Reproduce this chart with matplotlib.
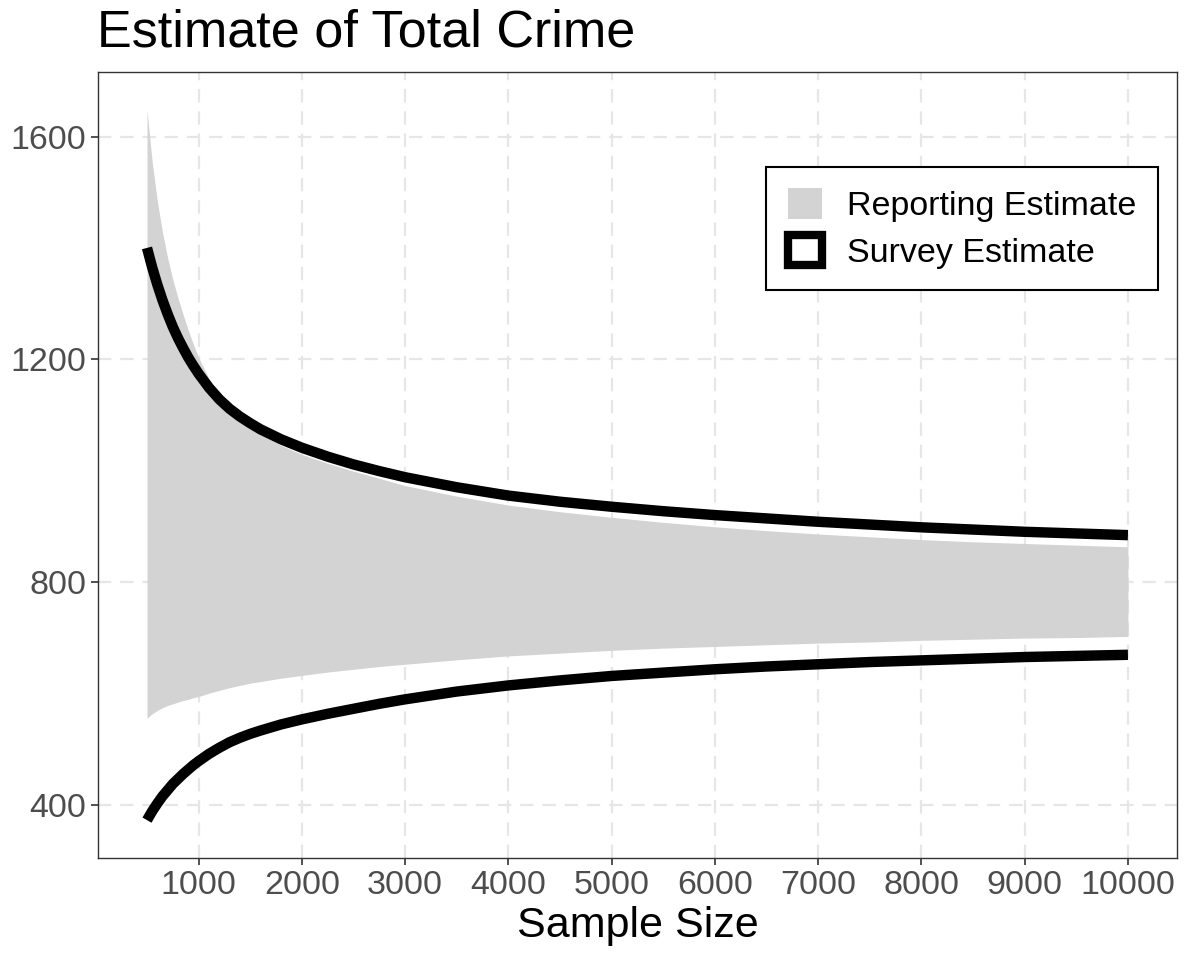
import matplotlib
matplotlib.use("Agg")
import matplotlib.pyplot as plt
from matplotlib.patches import Patch

plt.rcParams['font.family'] = ['Liberation Sans', 'DejaVu Sans']

# sample sizes
sample_size = [500, 550, 600, 650, 700, 750, 800, 850, 900, 950, 1000,
               1100, 1200, 1300, 1400, 1500, 1600, 1800, 2000, 2250, 2500, 2750,
               3000, 3500, 4000, 4500, 5000, 5500, 6000, 6500, 7000, 7500,
               8000, 8500, 9000, 9500, 10000]

# reporting estimate band (grey ribbon)
report_hi = [1648, 1555, 1484, 1428, 1382, 1343, 1310, 1280, 1252, 1226, 1203,
             1165, 1135, 1111, 1093, 1078, 1065, 1045, 1029, 1013, 999, 986,
             973, 954, 938, 926, 916, 907, 899, 892, 886, 881,
             876, 872, 869, 866, 863]
report_lo = [555, 563, 569, 574, 578, 581, 584, 587, 589, 592, 594,
             600, 605, 610, 614, 618, 621, 627, 632, 638, 643, 648,
             652, 660, 667, 672, 677, 681, 684, 687, 690, 692,
             695, 697, 699, 700, 702]

# survey estimate bounds (black lines)
survey_hi = [1400, 1365, 1334, 1306, 1281, 1258, 1238, 1220, 1203, 1188, 1174,
             1149, 1128, 1111, 1097, 1085, 1074, 1056, 1041, 1025, 1011, 999,
             988, 970, 955, 944, 935, 927, 920, 914, 908, 903,
             898, 894, 890, 887, 884]
survey_lo = [372, 388, 402, 415, 426, 437, 446, 455, 463, 471, 478,
             491, 502, 512, 520, 527, 533, 544, 553, 563, 572, 581,
             589, 603, 614, 623, 631, 637, 643, 648, 652, 656,
             659, 662, 665, 667, 669]

xticks = [1000, 2000, 3000, 4000, 5000, 6000, 7000, 8000, 9000, 10000]
yticks = [400, 800, 1200, 1600]

fig = plt.figure(figsize=(11.86, 9.55), dpi=100)
ax = fig.add_axes([0.0826, 0.1016, 0.9098, 0.823])

ax.fill_between(sample_size, report_lo, report_hi, color='#d3d3d3', lw=0, zorder=2)
ax.plot(sample_size, survey_hi, color='black', lw=7.5, solid_capstyle='butt',
        solid_joinstyle='round', zorder=3)
ax.plot(sample_size, survey_lo, color='black', lw=7.5, solid_capstyle='butt',
        solid_joinstyle='round', zorder=3)

ax.set_xlim(25, 10475)
ax.set_ylim(304, 1716)
ax.set_xticks(xticks)
ax.set_yticks(yticks)
ax.grid(True, color='#e6e6e6', linestyle=(0, (6, 4)), lw=1.6, zorder=1)
ax.set_axisbelow(True)
for s in ax.spines.values():
    s.set_color('#333333')
    s.set_linewidth(1.0)
ax.tick_params(colors='#333333', labelcolor='#4d4d4d', labelsize=24.5, length=5, width=1.2)

ax.set_xlabel('Sample Size', fontsize=31, color='black', labelpad=4)
fig.text(0.082, 0.9508, 'Estimate of Total Crime', fontsize=37.5, va='baseline', ha='left')

handles = [Patch(facecolor='#d3d3d3', edgecolor='none'),
           Patch(facecolor='white', edgecolor='black', linewidth=6)]
leg = ax.legend(handles, ['Reporting Estimate', 'Survey Estimate'],
                loc='upper right', bbox_to_anchor=(0.982, 0.879), fontsize=24.5,
                fancybox=False, framealpha=1, edgecolor='black',
                handlelength=1.0, handleheight=1.0, handletextpad=0.75,
                labelspacing=0.38, borderpad=0.62, borderaxespad=0)
leg.get_frame().set_linewidth(1.5)

fig.savefig('out.png', dpi=100)
